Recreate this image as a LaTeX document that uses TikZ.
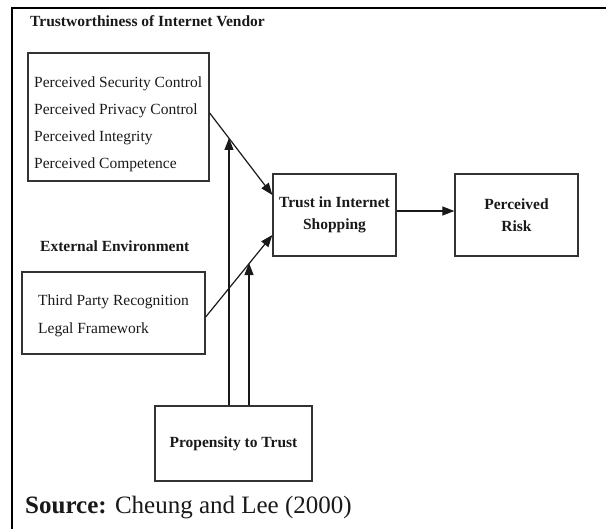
\documentclass[tikz,border=0pt]{standalone}
\usepackage{fontspec}
\setmainfont{Liberation Serif}
\usetikzlibrary{arrows.meta,calc}
\begin{document}
\begin{tikzpicture}[x=1pt,y=-1pt,
 box/.style={draw=black!80,line width=1.3pt,inner sep=0pt},
 bbox/.style={box,align=center,font=\fontsize{15.5}{21.5}\selectfont\bfseries,text=black!90},
 plain/.style={inner sep=0pt,anchor=base west,align=left,font=\fontsize{15.5}{27.2}\selectfont,text=black!90},
 head/.style={inner sep=0pt,anchor=base west,font=\fontsize{15.5}{18}\selectfont\bfseries,text=black!90},
 arr/.style={line width=1.2pt,draw=black!90,-{Triangle[length=12pt,width=9pt]}},
]
\useasboundingbox (0,0) rectangle (610,529);
\draw[line width=2pt] (12,529) -- (12,8) -- (606,8);

\node[head] (title) at (30,27) {Trustworthiness of Internet Vendor};
\node[box,minimum width=181pt,minimum height=128pt] (box1) at (118.5,117) {};
\node[plain] (box1txt) at (34,169) {Perceived Security Control\\Perceived Privacy Control\\Perceived Integrity\\Perceived Competence};

\node[head] (ext) at (40,252) {External Environment};
\node[box,minimum width=183pt,minimum height=82pt] (box2) at (113.5,313) {};
\node[plain] (box2txt) at (38,333) {Third Party Recognition\\Legal Framework};

\node[bbox,minimum width=123pt,minimum height=82pt] (trust) at (334.5,215) {Trust in Internet\\Shopping};
\node[bbox,minimum width=123pt,minimum height=82pt] (risk) at (516.5,215) {Perceived\\Risk};
\node[bbox,minimum width=157pt,minimum height=75pt] (prop) at (233.5,443.5) {Propensity to Trust};

\coordinate (v1) at (229,138);
\coordinate (v2) at (249,263);

\draw[arr] ([yshift=4pt]box1.east) -- ([yshift=20pt]trust.west);
\draw[arr] ([yshift=-4pt]box2.east) -- ([yshift=-20pt]trust.west);
\draw[arr] ([yshift=4pt]trust.east) -- ([yshift=4pt]risk.west);
\draw[arr] (prop.north -| v1) -- (v1);
\draw[arr] (prop.north -| v2) -- (v2);

\node[inner sep=0pt,anchor=base west,font=\fontsize{25}{30}\selectfont,text=black!90] (src) at (25,513) {\textbf{Source:} Cheung and Lee (2000)};
\end{tikzpicture}
\end{document}
